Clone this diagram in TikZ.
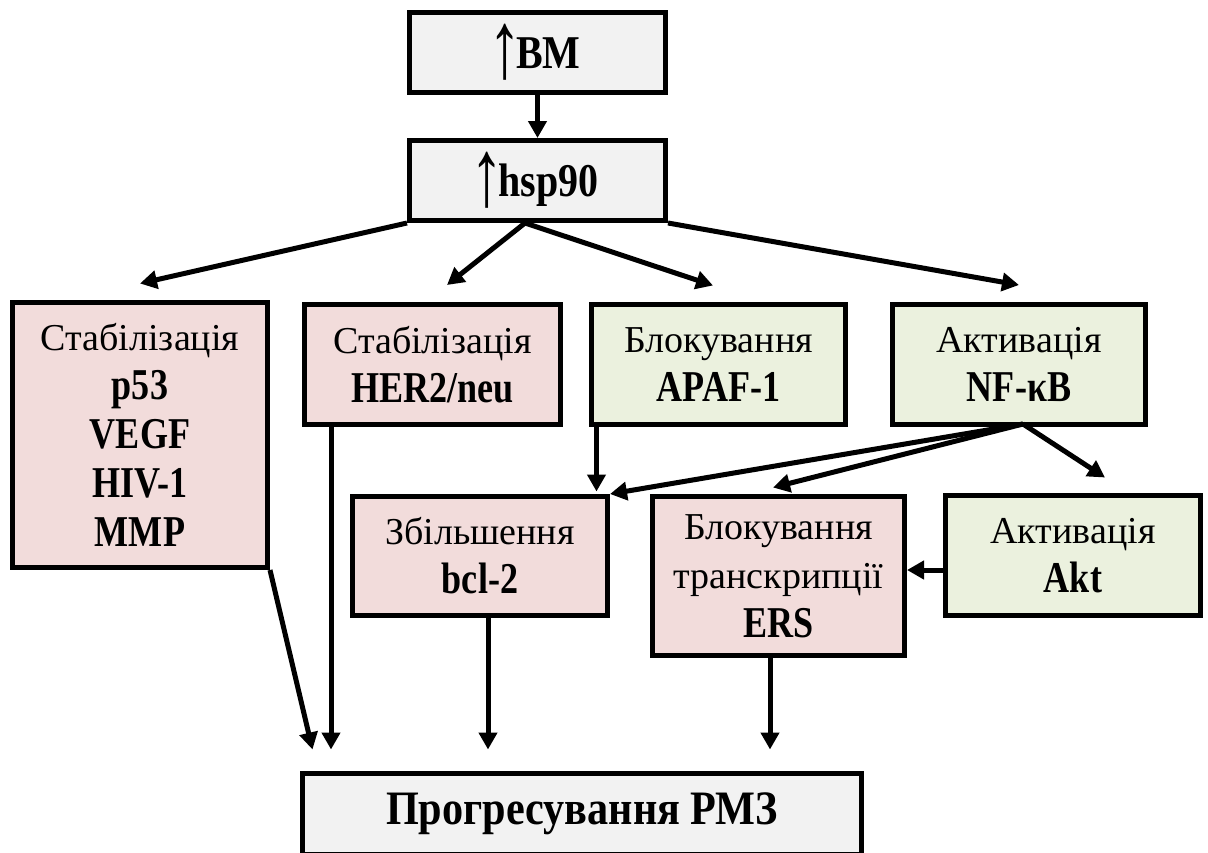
\documentclass[tikz,border=0pt]{standalone}
\usepackage{fontspec}
\setmainfont{Liberation Serif}
% narrow bold faces for the labels
\newfontfamily\rowserif{Liberation Serif}[FakeStretch=0.82]
\newfontfamily\topserif{Liberation Serif}[FakeStretch=0.85]
\newfontfamily\botserif{Liberation Serif}[FakeStretch=0.88]
\newcommand\rb[1]{{\fontsize{44}{49}\rowserif\bfseries #1}}
\newcommand\tb[1]{{\fontsize{47}{49}\topserif\bfseries #1}}
% tall thin "increase" arrow
\newcommand\upar{\makebox[22pt]{\raisebox{-9pt}{\scalebox{0.7}[1]{\fontsize{95}{95}\selectfont ↑}}}}
\usetikzlibrary{arrows.meta}
\definecolor{boxgray}{HTML}{F2F2F2}
\definecolor{boxpink}{HTML}{F2DCDB}
\definecolor{boxgreen}{HTML}{EBF1DE}

\begin{document}
\begin{tikzpicture}[x=1pt,y=-1pt,
  box/.style={draw=black, line width=5pt, inner sep=0pt, align=center,
              font=\fontsize{38}{49}\selectfont},
  greybox/.style={box, fill=boxgray},
  pinkbox/.style={box, fill=boxpink},
  greenbox/.style={box, fill=boxgreen},
  arr/.style={line width=5pt, -{Triangle[length=17pt,width=18pt]}},
]
\useasboundingbox (0,0) rectangle (1208,852);

% top chain
\node[greybox, minimum width=256pt, minimum height=80pt] (bm)  at (537.5,52.5)  {\upar\tb{BM}};
\node[greybox, minimum width=256pt, minimum height=80pt] (hsp) at (537.5,180.5) {\upar\tb{hsp90}};

% first row of effects
\node[pinkbox,  minimum width=255pt, minimum height=265pt] (A) at (140,435)
  {Стабілізація\\\rb{p53}\\\rb{VEGF}\\\rb{HIV-1}\\\rb{MMP}};
\node[pinkbox,  minimum width=256pt, minimum height=120pt] (B) at (432.5,364.5)
  {Стабілізація\\\rb{HER2/neu}};
\node[greenbox, minimum width=254pt, minimum height=120pt] (C) at (718.5,364.5)
  {Блокування\\\rb{APAF-1}};
\node[greenbox, minimum width=253pt, minimum height=120pt] (D) at (1019,364.5)
  {Активація\\\rb{NF-κB}};

% second row
\node[pinkbox,  minimum width=255pt, minimum height=119pt] (E) at (480,556)
  {Збільшення\\\rb{bcl-2}};
\node[pinkbox,  minimum width=252pt, minimum height=159pt] (F) at (778.5,576)
  {Блокування\\транскрипції\\\rb{ERS}};
\node[greenbox, minimum width=255pt, minimum height=120pt] (G) at (1073,555.5)
  {Активація\\\rb{Akt}};

% outcome
\node[greybox, minimum width=559pt, minimum height=81pt] (bot) at (582,814)
  {{\fontsize{48}{49}\botserif\bfseries Прогресування РМЗ}};

% connector end points
\coordinate (hspO) at ([xshift=-12.5pt]hsp.south);
\coordinate (tA) at ([yshift=16.5pt]A.north);
\coordinate (tB) at ([xshift=14.5pt,yshift=17pt]B.north);
\coordinate (tC) at ([xshift=-5.5pt,yshift=16.5pt]C.north);
\coordinate (tD) at ([yshift=17pt]D.north);
\coordinate (cE) at ([xshift=7.5pt]C.south west);
\path (cE |- E.north) coordinate (cEt);
\coordinate (Do) at ([xshift=4pt,yshift=3pt]D.south);
\coordinate (tF) at ([xshift=-5.5pt,yshift=6.5pt]F.north);
\coordinate (tG) at ([xshift=32pt,yshift=15.5pt]G.north);
\coordinate (gL) at ([yshift=-14.5pt]G.west);
\coordinate (t1) at ([xshift=12.5pt,yshift=21.5pt]bot.north west);
\coordinate (bS) at ([xshift=29pt]B.south west);
\coordinate (eS) at ([xshift=8pt]E.south);
\coordinate (fS) at ([xshift=-8.5pt]F.south);

% connectors
\draw[arr] (bm) -- (hsp);
\draw[arr] (hsp.south west) -- (tA);
\draw[arr] (hspO) -- (tB);
\draw[arr] (hspO) -- (tC);
\draw[arr] (hsp.south east) -- (tD);
\draw[arr] (cE) -- ([yshift=2.5pt]cEt);
\draw[arr] (Do) -- (E.north east);
\draw[arr] (Do) -- (tF);
\draw[arr] (Do) -- (tG);
\draw[arr] (gL) -- (gL -| F.east);
\draw[arr] (A.south east) -- (t1);
\draw[arr] (bS) -- (bS |- t1);
\draw[arr] (eS) -- (eS |- t1);
\draw[arr] (fS) -- (fS |- t1);
\end{tikzpicture}
\end{document}
